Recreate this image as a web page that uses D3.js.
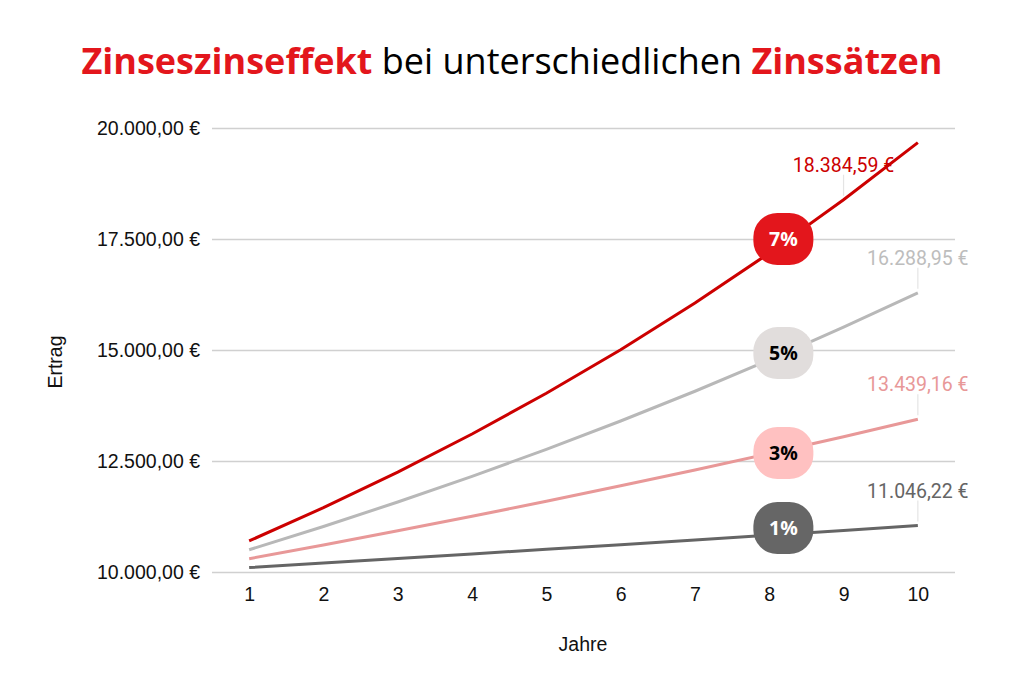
<!DOCTYPE html>
<html><head><meta charset="utf-8">
<script src="https://cdn.jsdelivr.net/npm/d3@7"></script>
<style>body{margin:0;background:#fff}svg{display:block}</style>
</head><body>
<svg id="c" width="1024" height="680"></svg>
<script>
const years = [1,2,3,4,5,6,7,8,9,10];
const rate7 = [10700.00,11449.00,12250.43,13107.96,14025.52,15007.30,16057.81,17181.86,18384.59,19671.51];
const rate5 = [10500.00,11025.00,11576.25,12155.06,12762.82,13400.96,14071.00,14774.55,15513.28,16288.95];
const rate3 = [10300.00,10609.00,10927.27,11255.09,11592.74,11940.52,12298.74,12667.70,13047.73,13439.16];
const rate1 = [10100.00,10201.00,10303.01,10406.04,10510.10,10615.20,10721.35,10828.57,10936.85,11046.22];
const seriesNames = ["7%","5%","3%","1%"];
const yTicks = [10000,12500,15000,17500,20000];
const labelYear = [9,10,10,10];
const badgeYear = 8.19;
const badgeValues = [17500,14930,12680,10990];

const series = [
  {name:"7%", values:rate7, color:"#cc0000", text:"#cc0000", bg:"#e3161c", fg:"#ffffff"},
  {name:"5%", values:rate5, color:"#b8b8b8", text:"#bdbdbd", bg:"#e1dddc", fg:"#000000"},
  {name:"3%", values:rate3, color:"#e89898", text:"#e89898", bg:"#ffc1c1", fg:"#000000"},
  {name:"1%", values:rate1, color:"#656565", text:"#656565", bg:"#666666", fg:"#ffffff"}
];

const svg = d3.select("#c");
const L=212, R=955, T=128, B=572;
const AX = "'Liberation Sans', Arial";
const x = d3.scalePoint().domain(years).range([L,R]).padding(0.5);
const xl = d3.scaleLinear().domain([1,10]).range([x(1),x(10)]);
const y = d3.scaleLinear().domain([10000,20000]).range([B,T]);
const fmt = d3.formatLocale({decimal:",",thousands:".",grouping:[3],currency:[""," €"]}).format(",.2f");

// title
const title = svg.append("text").attr("x",512).attr("y",74).attr("text-anchor","middle")
  .attr("font-family","'Open Sans'").attr("font-size",36);
title.append("tspan").attr("font-weight","bold").attr("fill","#e3161c").text("Zinseszinseffekt");
title.append("tspan").attr("fill","#000").text(" bei unterschiedlichen ");
title.append("tspan").attr("font-weight","bold").attr("fill","#e3161c").text("Zinssätzen");

// gridlines + y axis
const yAxis = d3.axisLeft(y).tickValues(yTicks).tickSize(-(R-L)).tickPadding(12)
  .tickFormat(d=>fmt(d)+" €");
const gy = svg.append("g").attr("transform",`translate(${L},0)`).call(yAxis);
gy.select(".domain").remove();
gy.selectAll(".tick line").attr("stroke","#d0d0d0").attr("stroke-width",1.5);
gy.selectAll(".tick text").attr("font-family",AX).attr("font-size",19.5).attr("fill","#111");

// x axis
const xAxis = d3.axisBottom(x).tickSize(0).tickPadding(15);
const gx = svg.append("g").attr("transform",`translate(0,${B})`).call(xAxis);
gx.select(".domain").remove();
gx.selectAll(".tick text").attr("font-family",AX).attr("font-size",19.5).attr("fill","#111");

// axis titles
svg.append("text").attr("x",583).attr("y",651).attr("text-anchor","middle")
  .attr("font-family",AX).attr("font-size",19.5).attr("fill","#111").text("Jahre");
svg.append("text").attr("transform","translate(62,362) rotate(-90)").attr("text-anchor","middle")
  .attr("font-family",AX).attr("font-size",19.5).attr("fill","#111").text("Ertrag");

// lines
const line = d3.line().x((d,i)=>x(years[i])).y(d=>y(d));
series.slice().reverse().forEach(s=>{
  svg.append("path").attr("d",line(s.values)).attr("fill","none")
    .attr("stroke",s.color).attr("stroke-width",3);
});

// value labels
series.forEach((s,k)=>{
  const yr = labelYear[k];
  const v = s.values[years.indexOf(yr)];
  const px = x(yr), py = y(v);
  svg.append("line").attr("x1",px).attr("x2",px).attr("y1",py-4).attr("y2",py-25)
    .attr("stroke","#e4e4e4").attr("stroke-width",1.2);
  svg.append("text").attr("x",px).attr("y",py-28).attr("text-anchor","middle")
    .attr("font-family","Roboto").attr("font-size",19.5).attr("fill",s.text).text(fmt(v)+" €");
});

// badges
series.forEach((s,k)=>{
  const cx = xl(badgeYear), cy = y(badgeValues[k]);
  svg.append("rect").attr("x",cx-30).attr("y",cy-26).attr("width",60).attr("height",52)
    .attr("rx",24).attr("ry",24).attr("fill",s.bg);
  svg.append("text").attr("x",cx).attr("y",cy+7).attr("text-anchor","middle")
    .attr("font-family","'Open Sans'").attr("font-weight","bold").attr("font-size",19.5)
    .attr("fill",s.fg).text(s.name);
});
</script>
</body></html>
